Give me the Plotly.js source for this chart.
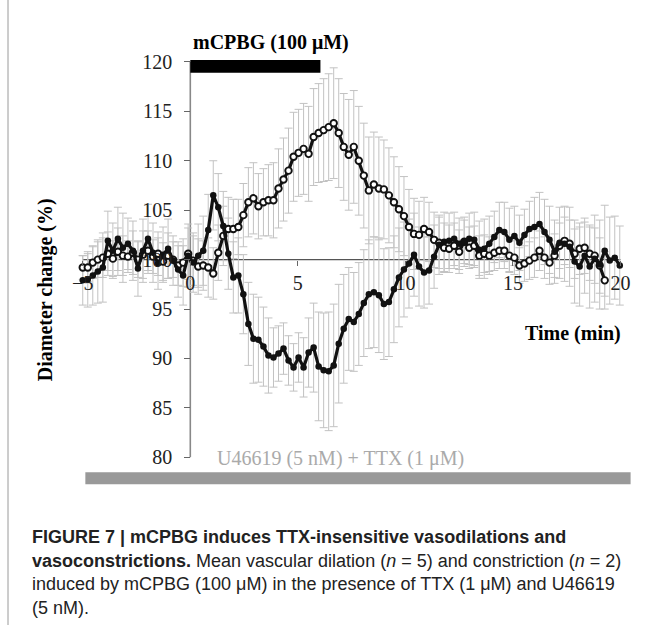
<!DOCTYPE html>
<html><head><meta charset="utf-8">
<script src="https://cdn.plot.ly/plotly-3.0.1.min.js"></script>
<style>html,body{margin:0;padding:0;background:#fff}#chart{width:656px;height:625px}</style>
</head><body><div id="chart"></div>
<script>
// Time grid: one sample every 14 s (7/30 min) starting at -5 min
const startTime = -5;
const sampleStep = 7 / 30;

// Dilation (open circles), mean diameter %, n = 5
const dilation = [
99.2,99.2,99.7,100.0,100.2,100.6,100.1,100.8,100.4,100.3,
100.7,100.0,100.5,100.9,100.3,100.6,99.8,100.4,100.0,99.4,
99.7,100.6,99.9,99.3,99.4,99.2,98.6,100.7,102.4,103.1,
103.1,103.3,104.5,105.8,106.2,105.4,105.8,106.0,106.0,107.2,
108.1,109.0,110.4,110.8,111.2,110.7,112.4,112.8,113.1,113.4,
113.8,112.8,111.4,110.6,111.4,110.0,108.5,107.0,107.6,107.2,
107.1,106.5,105.8,105.1,104.4,103.3,102.6,102.5,103.1,102.8,
102.0,101.7,101.2,101.1,101.4,100.8,101.8,101.2,101.4,100.4,
100.6,100.4,100.7,100.9,100.9,100.4,100.2,99.4,99.6,99.9,
100.2,100.9,100.2,99.7,100.4,101.4,101.9,101.6,100.6,101.1,
101.2,100.6,100.4,99.4,97.9];
const dilationErr = [
1.2,1.4,1.6,1.8,2.0,2.2,1.8,2.4,2.0,1.6,
2.2,1.8,2.4,2.0,1.7,2.2,1.9,2.3,1.8,2.0,
2.4,2.6,2.5,2.8,2.5,3.0,2.6,2.8,3.0,3.2,
3.0,2.8,3.2,3.5,3.6,3.3,3.4,3.6,3.8,4.0,
4.2,4.3,4.5,4.4,4.6,4.8,4.9,5.0,5.2,5.4,
5.6,5.5,5.4,5.6,5.7,5.5,5.3,5.4,5.3,5.2,
5.0,4.8,4.6,4.3,4.0,3.8,3.6,3.4,3.2,3.0,
2.8,2.6,2.5,2.4,2.3,2.2,2.2,2.1,2.0,2.0,
1.9,1.9,1.8,1.8,1.8,1.7,1.7,1.8,1.8,1.9,
2.0,2.0,2.1,2.2,2.2,2.3,2.4,2.4,2.5,2.6,
2.6,2.7,2.8,2.8,2.9];

// Constriction (filled circles), mean diameter %, n = 2
const constriction = [
97.9,98.0,98.4,98.8,99.2,101.9,100.9,102.1,101.2,101.6,
100.9,99.1,100.9,102.1,100.7,99.6,100.5,101.1,99.9,99.0,
98.4,100.4,99.7,100.4,100.9,103.0,106.5,105.3,103.4,100.6,
98.2,98.4,96.5,93.5,92.0,91.9,91.2,90.3,90.1,90.5,
91.0,89.8,89.1,90.1,89.1,90.6,91.1,89.2,88.8,88.7,
89.3,91.5,93.0,94.0,93.7,94.5,95.6,96.5,96.7,96.4,
95.5,95.7,97.0,98.2,99.0,99.6,100.5,99.3,98.7,98.9,
100.3,101.5,101.8,101.9,102.1,101.6,101.8,102.1,102.0,101.0,
101.1,101.6,102.3,103.0,102.8,102.0,102.4,101.7,102.5,103.1,
103.3,103.6,102.8,102.0,100.8,101.7,101.6,101.3,99.8,99.3,
100.4,99.3,100.1,99.5,100.9,99.9,100.2,99.4];
const constrictionErr = [
2.5,2.8,3.0,3.2,3.5,3.0,2.8,3.2,3.5,2.6,
3.0,2.8,3.2,3.5,3.0,2.6,2.8,3.0,2.5,2.8,
3.0,3.2,3.0,3.2,3.5,3.6,3.5,3.4,3.5,3.6,
3.6,3.8,4.0,4.2,4.5,4.3,4.0,3.8,3.0,2.8,
2.6,2.5,2.4,2.5,3.0,3.5,4.5,5.5,5.8,6.0,
6.2,6.0,5.5,5.2,5.0,5.2,5.4,5.5,5.6,5.8,
5.6,5.5,5.4,5.0,4.8,4.5,4.2,4.0,3.6,3.4,
3.2,3.0,3.0,2.8,2.7,2.6,2.5,2.6,2.8,2.9,
3.0,2.8,2.6,2.8,3.0,3.2,3.0,2.8,2.6,2.8,
3.0,3.2,3.3,3.4,3.2,3.6,3.8,4.0,4.2,4.0,
3.8,4.2,4.4,4.5,4.6,4.4,4.2,4.0];

const xTickVals = [-5, 0, 5, 10, 15, 20];
const yTickVals = [80, 85, 90, 95, 100, 105, 110, 115, 120];
const drugLabel = 'mCPBG (100 μM)';
const drugPeriod = [0, 6.05];
const bathLabel = 'U46619 (5 nM) + TTX (1 μM)';
const bathPeriod = [-4.88, 20.47];
const captionLines = [
  '<b>FIGURE 7 | mCPBG induces TTX-insensitive vasodilations and</b>',
  '<b>vasoconstrictions.</b> Mean vascular dilation (<i>n</i> = 5) and constriction (<i>n</i> = 2)',
  'induced by mCPBG (100 μM) in the presence of TTX (1 μM) and U46619',
  '(5 nM).'
];

function times(n) { const t = []; for (let i = 0; i < n; i++) t.push(startTime + i * sampleStep); return t; }
const tD = times(dilation.length), tC = times(constriction.length);

const SERIF = 'Liberation Serif, Times New Roman, serif';
const ebar = (arr) => ({type: 'data', array: arr, symmetric: true, color: '#c2c2c2', thickness: 1, width: 4});

const traces = [
  {x: tD, y: dilation, mode: 'markers', marker: {color: 'rgba(0,0,0,0)', size: 1}, error_y: ebar(dilationErr), hoverinfo: 'skip'},
  {x: tC, y: constriction, mode: 'markers', marker: {color: 'rgba(0,0,0,0)', size: 1}, error_y: ebar(constrictionErr), hoverinfo: 'skip'},
  {x: tD, y: dilation, mode: 'lines+markers', line: {color: '#111', width: 3.2},
   marker: {symbol: 'circle', size: 6.5, color: '#fff', line: {color: '#111', width: 1.9}}, name: 'dilation'},
  {x: tC, y: constriction, mode: 'lines+markers', line: {color: '#111', width: 3.2},
   marker: {symbol: 'circle', size: 6.5, color: '#111'}, name: 'constriction'}
];

const W = 656, H = 625;
const yMin = 77, yMax = 121, xMin = -5.5, xMax = 21;
const plotLeft = 72, plotRight = 14, plotTop = 52, plotBottom = 138;
const plotW = W - plotLeft - plotRight, plotH = H - plotTop - plotBottom;
const pyToPaper = (py) => (H - plotBottom - py) / plotH;
const pxToPaper = (px) => (px - plotLeft) / plotW;
const layout = {
  width: W, height: H,
  margin: {l: plotLeft, r: plotRight, t: plotTop, b: plotBottom},
  paper_bgcolor: '#fff', plot_bgcolor: 'rgba(0,0,0,0)',
  showlegend: false,
  xaxis: {range: [xMin, xMax], anchor: 'free', position: (100 - yMin) / (yMax - yMin),
    showgrid: false, zeroline: false, showline: false,
    tickmode: 'array', tickvals: xTickVals, ticks: 'outside', ticklen: 5, tickcolor: '#666',
    tickfont: {family: SERIF, size: 20, color: '#222'}},
  yaxis: {range: [yMin, yMax], anchor: 'free', position: (0 - xMin) / (xMax - xMin),
    showgrid: false, zeroline: false, showline: false,
    tickmode: 'array', tickvals: yTickVals, ticks: 'outside', ticklen: 6, tickcolor: '#666',
    ticklabelstandoff: 8,
    tickfont: {family: SERIF, size: 20, color: '#222'}},
  shapes: [
    {type: 'line', xref: 'x', yref: 'y', x0: xTickVals[0], x1: xTickVals[xTickVals.length - 1], y0: 100, y1: 100,
     line: {color: '#555', width: 1.2}, layer: 'below'},
    {type: 'line', xref: 'x', yref: 'y', x0: 0, x1: 0, y0: yTickVals[0], y1: yTickVals[yTickVals.length - 1],
     line: {color: '#888', width: 1.6}, layer: 'below'},
    {type: 'rect', xref: 'x', yref: 'y', x0: drugPeriod[0], x1: drugPeriod[1], y0: 118.9, y1: 120.2,
     fillcolor: '#000', line: {width: 0}, layer: 'above'},
    {type: 'rect', xref: 'x', yref: 'y', x0: bathPeriod[0], x1: bathPeriod[1], y0: 77.27, y1: 78.48,
     fillcolor: '#999', line: {width: 0}, layer: 'above'},
    // figure frame (left edge)
    {type: 'line', xref: 'paper', yref: 'paper', x0: pxToPaper(8), x1: pxToPaper(8), y0: pyToPaper(0), y1: pyToPaper(H),
     line: {color: '#9a9a9a', width: 1}}
  ],
  annotations: [
    {text: '<b>' + drugLabel + '</b>', xref: 'x', yref: 'paper', x: 3.77, y: pyToPaper(42), showarrow: false,
     xanchor: 'center', yanchor: 'middle', font: {family: SERIF, size: 20, color: '#000'}},
    {text: '<b>Diameter change (%)</b>', xref: 'paper', yref: 'y', x: pxToPaper(45), y: 96.9, showarrow: false,
     textangle: -90, xanchor: 'center', yanchor: 'middle', font: {family: SERIF, size: 20, color: '#000'}},
    {text: '<b>Time (min)</b>', xref: 'x', yref: 'y', x: 17.77, y: 92.55, showarrow: false,
     xanchor: 'center', yanchor: 'middle', font: {family: SERIF, size: 20, color: '#000'}},
    {text: bathLabel, xref: 'x', yref: 'y', x: 6.98, y: 79.9, showarrow: false,
     xanchor: 'center', yanchor: 'middle', font: {family: SERIF, size: 20, color: '#aaa'}}
  ]
};
captionLines.forEach((line, i) => {
  layout.annotations.push({text: line, xref: 'paper', yref: 'paper', x: pxToPaper(30), xanchor: 'left',
    y: pyToPaper(537 + i * 23.5), yanchor: 'middle', showarrow: false, align: 'left',
    font: {family: 'Liberation Sans, Arial, sans-serif', size: 18, color: '#222'}});
});

Plotly.newPlot('chart', traces, layout, {staticPlot: true, displayModeBar: false});
</script></body></html>
